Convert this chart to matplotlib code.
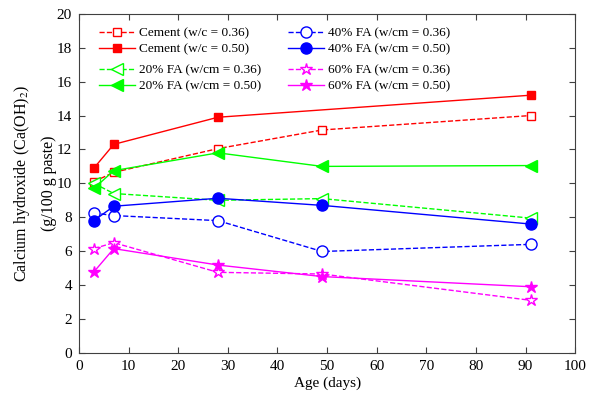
import matplotlib
matplotlib.use("Agg")
import matplotlib.pyplot as plt
from matplotlib.legend import Legend

plt.rcParams['font.family'] = ['Liberation Serif', 'DejaVu Serif']
plt.rcParams['mathtext.fontset'] = 'stix'

# ages (days)
age = [3, 7, 28, 49, 91]
age_c50 = [3, 7, 28, 91]

# calcium hydroxide (g/100 g paste)
cement_036 = [10.1, 10.65, 12.05, 13.15, 14.0]
cement_050 = [10.9, 12.3, 13.9, 15.2]
fa20_036 = [10.0, 9.4, 9.0, 9.1, 7.95]
fa20_050 = [9.7, 10.75, 11.8, 11.0, 11.05]
fa40_036 = [8.25, 8.1, 7.8, 5.98, 6.4]
fa40_050 = [7.8, 8.65, 9.12, 8.7, 7.6]
fa60_036 = [6.15, 6.5, 4.75, 4.65, 3.1]
fa60_050 = [4.78, 6.15, 5.18, 4.5, 3.9]

red, green, blue, mag = '#ff0000', '#00ff00', '#0000ff', '#ff00ff'

fig = plt.figure(figsize=(6.08, 3.96), dpi=100)
ax = fig.add_axes([0.130, 0.109, 0.816, 0.856])

h = {}
h['c36'], = ax.plot(age, cement_036, '--s', color=red, mfc='white', ms=6, lw=1,
                    label='Cement (w/c = 0.36)')
h['c50'], = ax.plot(age_c50, cement_050, '-s', color=red, mfc=red, ms=6, lw=1,
                    label='Cement (w/c = 0.50)')
h['f20_36'], = ax.plot(age, fa20_036, '--<', color=green, mfc='white', ms=9, lw=1,
                       label='20% FA (w/cm = 0.36)')
h['f20_50'], = ax.plot(age, fa20_050, '-<', color=green, mfc=green, ms=9, lw=1,
                       label='20% FA (w/cm = 0.50)')
h['f40_36'], = ax.plot(age, fa40_036, '--o', color=blue, mfc='white', ms=8, lw=1,
                       label='40% FA (w/cm = 0.36)')
h['f40_50'], = ax.plot(age, fa40_050, '-o', color=blue, mfc=blue, ms=8, lw=1,
                       label='40% FA (w/cm = 0.50)')
h['f60_36'], = ax.plot(age, fa60_036, '--*', color=mag, mfc='white', ms=9, lw=1,
                       label='60% FA (w/cm = 0.36)')
h['f60_50'], = ax.plot(age, fa60_050, '-*', color=mag, mfc=mag, ms=9, lw=1,
                       label='60% FA (w/cm = 0.50)')

leg_kw = dict(loc='upper left', frameon=False, fontsize=9.5,
              handlelength=2.7, handletextpad=0.3,
              labelspacing=0.3, borderaxespad=0)

# four small legend blocks: two columns, gap between row pairs
groups = [(['c36', 'c50'], (0.030, 0.976)),
          (['f20_36', 'f20_50'], (0.030, 0.867)),
          (['f40_36', 'f40_50'], (0.411, 0.976)),
          (['f60_36', 'f60_50'], (0.411, 0.867))]
for keys, anchor in groups:
    leg = Legend(ax, [h[k] for k in keys], [h[k].get_label() for k in keys],
                 bbox_to_anchor=anchor, **leg_kw)
    ax.add_artist(leg)

ax.set_xlim(0, 100)
ax.set_ylim(0, 20)
ax.set_xticks(range(0, 101, 10))
ax.set_yticks(range(0, 21, 2))
ax.tick_params(direction='in', top=True, right=True, labelsize=11, length=4,
               width=0.8, pad=5, colors='#404040', labelcolor='black')
for s in ax.spines.values():
    s.set_color('#404040')
    s.set_linewidth(0.8)

ax.set_xlabel('Age (days)', fontsize=11, labelpad=3)
ax.set_ylabel('Calcium hydroxide (Ca(OH)$_2$)\n(g/100 g paste)', fontsize=11.5,
              linespacing=1.75, labelpad=0)

fig.savefig('out.png', dpi=100)
